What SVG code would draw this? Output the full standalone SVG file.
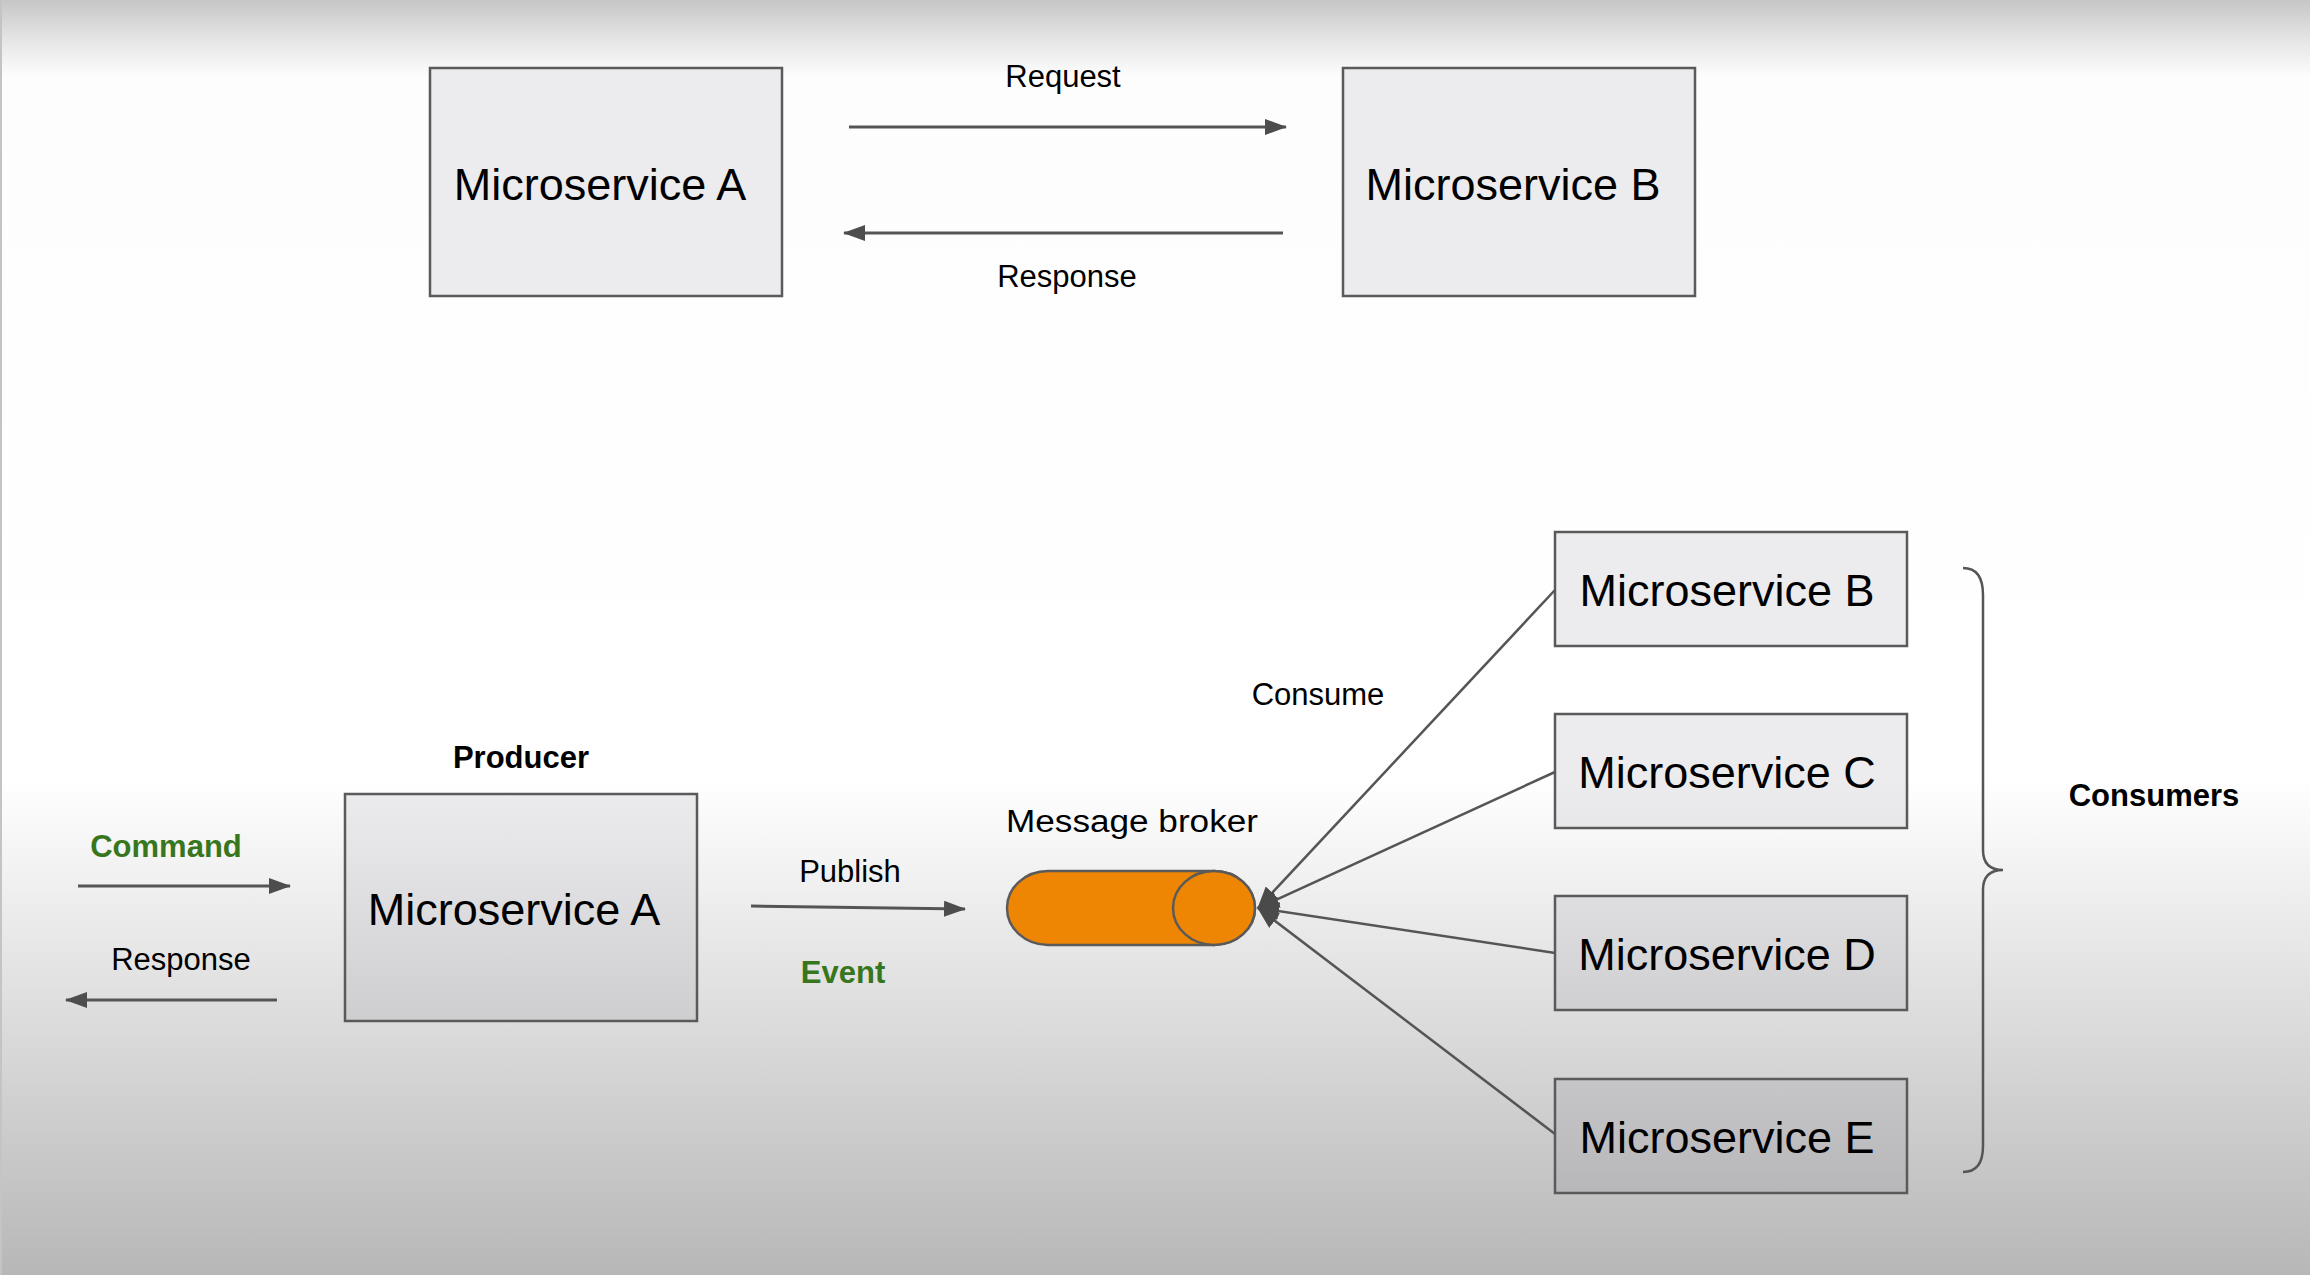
<svg xmlns="http://www.w3.org/2000/svg" width="2310" height="1275" viewBox="0 0 2310 1275">
  <defs>
    <linearGradient id="bg" gradientUnits="userSpaceOnUse" x1="0" y1="0" x2="0" y2="1275">
      <stop offset="0" stop-color="#c6c6c6"/>
      <stop offset="0.03" stop-color="#e4e4e4"/>
      <stop offset="0.06" stop-color="#fdfdfd"/>
      <stop offset="0.61" stop-color="#ffffff"/>
      <stop offset="0.66" stop-color="#f6f6f6"/>
      <stop offset="1" stop-color="#b7b7b7"/>
    </linearGradient>
    <linearGradient id="boxfill" gradientUnits="userSpaceOnUse" x1="0" y1="0" x2="0" y2="1275">
      <stop offset="0" stop-color="#e6e5e8"/>
      <stop offset="0.06" stop-color="#ecebee"/>
      <stop offset="0.61" stop-color="#ecebee"/>
      <stop offset="0.66" stop-color="#e6e5e8"/>
      <stop offset="1" stop-color="#acabae"/>
    </linearGradient>
    <marker id="arr" markerUnits="userSpaceOnUse" markerWidth="22" markerHeight="16" refX="21" refY="8" orient="auto">
      <path d="M0,0 L22,8 L0,16 Z" fill="#4d4d4d"/>
    </marker>
    <marker id="arr2" markerUnits="userSpaceOnUse" markerWidth="22" markerHeight="18" refX="21" refY="9" orient="auto">
      <path d="M0,0 L22,9 L0,18 Z" fill="#4a4a4a"/>
    </marker>
  </defs>
  <style>
    .box { fill: url(#boxfill); stroke: #5a5a5a; stroke-width: 2.5; }
    .big { font-family: "Liberation Sans", Arial, sans-serif; font-size: 45px; fill: #000; text-anchor: middle; }
    .lbl { font-family: "Liberation Sans", Arial, sans-serif; font-size: 31px; fill: #000; text-anchor: middle; }
    .bold { font-weight: bold; }
    .green { fill: #38761d; }
    .conn { stroke: #555555; stroke-width: 3; fill: none; }
    .thin { stroke: #555555; stroke-width: 2.5; fill: none; }
  </style>

  <rect x="0" y="0" width="2310" height="1275" fill="url(#bg)"/>
  <line x1="1" y1="0" x2="1" y2="1275" stroke="#c4c4c4" stroke-width="2"/>

  <!-- Top section -->
  <g id="top-ms-a">
    <rect class="box" x="430" y="68" width="352" height="228"/>
    <text class="big" x="600" y="200">Microservice A</text>
  </g>
  <g id="top-ms-b">
    <rect class="box" x="1343" y="68" width="352" height="228"/>
    <text class="big" x="1513" y="200">Microservice B</text>
  </g>

  <!-- Bottom section nodes -->
  <g id="producer">
    <text class="lbl bold" x="521" y="768">Producer</text>
    <rect class="box" x="345" y="794" width="352" height="227"/>
    <text class="big" x="514" y="925">Microservice A</text>
  </g>

  <g id="broker">
    <text class="lbl" x="1132" y="832" font-size="32" textLength="252" lengthAdjust="spacingAndGlyphs">Message broker</text>
    <path d="M1048,871 L1214,871 A41,37 0 0 1 1214,945 L1048,945 A41,37 0 0 1 1048,871 Z" fill="#ee8604" stroke="#5a5a5a" stroke-width="2.5"/>
    <ellipse cx="1214" cy="908" rx="41" ry="37" fill="#ee8604" stroke="#5a5a5a" stroke-width="2.5"/>
  </g>

  <g id="cons-b">
    <rect class="box" x="1555" y="532" width="352" height="114"/>
    <text class="big" x="1727" y="606">Microservice B</text>
  </g>
  <g id="cons-c">
    <rect class="box" x="1555" y="714" width="352" height="114"/>
    <text class="big" x="1727" y="788">Microservice C</text>
  </g>
  <g id="cons-d">
    <rect class="box" x="1555" y="896" width="352" height="114"/>
    <text class="big" x="1727" y="970">Microservice D</text>
  </g>
  <g id="cons-e">
    <rect class="box" x="1555" y="1079" width="352" height="114"/>
    <text class="big" x="1727" y="1153">Microservice E</text>
  </g>

  <g id="consumers-brace">
    <path class="thin" d="M1963,568 Q1983,568 1983,595 L1983,850 Q1983,870 2003,870 Q1983,870 1983,890 L1983,1146 Q1983,1172 1963,1172"/>
    <text class="lbl bold" x="2154" y="806">Consumers</text>
  </g>

  <!-- Connectors -->
  <g id="connectors">
    <line class="conn" x1="849" y1="127" x2="1286" y2="127" marker-end="url(#arr)"/>
    <text class="lbl" x="1063" y="87">Request</text>
    <line class="conn" x1="1283" y1="233" x2="844" y2="233" marker-end="url(#arr)"/>
    <text class="lbl" x="1067" y="287">Response</text>

    <text class="lbl bold green" x="166" y="857">Command</text>
    <line class="conn" x1="78" y1="886" x2="290" y2="886" marker-end="url(#arr)"/>
    <text class="lbl" x="181" y="970">Response</text>
    <line class="conn" x1="277" y1="1000" x2="66" y2="1000" marker-end="url(#arr)"/>

    <text class="lbl" x="850" y="882">Publish</text>
    <line class="conn" x1="751" y1="906" x2="965" y2="909" marker-end="url(#arr)"/>
    <text class="lbl bold green" x="843" y="983">Event</text>

    <text class="lbl" x="1318" y="705">Consume</text>
    <line class="thin" x1="1555" y1="590" x2="1258" y2="908" marker-end="url(#arr2)"/>
    <line class="thin" x1="1555" y1="772" x2="1258" y2="908" marker-end="url(#arr2)"/>
    <line class="thin" x1="1555" y1="953" x2="1258" y2="908" marker-end="url(#arr2)"/>
    <line class="thin" x1="1555" y1="1134" x2="1258" y2="908" marker-end="url(#arr2)"/>
  </g>
</svg>
